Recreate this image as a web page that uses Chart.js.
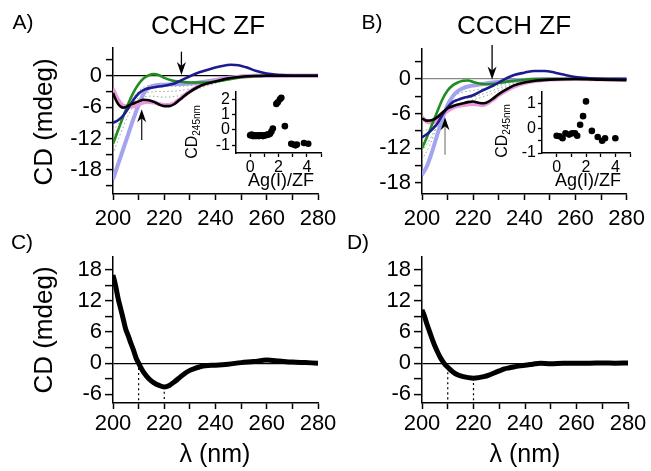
<!DOCTYPE html>
<html><head><meta charset="utf-8">
<script src="https://cdn.jsdelivr.net/npm/chart.js@4.4.1/dist/chart.umd.min.js"></script>
<style>
html,body{margin:0;padding:0;background:#fff;}
#wrap{position:relative;width:651px;height:471px;overflow:hidden;font-family:'Liberation Sans',Arial,Helvetica,sans-serif;color:#000;background:#fff;}
canvas{position:absolute;}
.t{position:absolute;white-space:nowrap;line-height:1;transform:translate(-50%,-50%);z-index:5;}
.r{transform:translate(-50%,-50%) rotate(-90deg);}
.r sub{font-size:10px;vertical-align:-3px;}
</style></head><body>
<div id="wrap">
<canvas id="cA" width="345" height="235" style="left:0;top:0;width:345px;height:235px"></canvas>
<canvas id="cB" width="326" height="235" style="left:325px;top:0;width:326px;height:235px"></canvas>
<canvas id="cC" width="345" height="231" style="left:0;top:240px;width:345px;height:231px"></canvas>
<canvas id="cD" width="326" height="231" style="left:325px;top:240px;width:326px;height:231px"></canvas>
<canvas id="iA" width="150" height="115" style="left:180px;top:80px;width:150px;height:115px"></canvas>
<canvas id="iB" width="150" height="115" style="left:490px;top:80px;width:150px;height:115px"></canvas>

<div class="t" style="left:23px;top:21px;font-size:21px">A)</div>
<div class="t" style="left:208px;top:25px;font-size:26px">CCHC ZF</div>
<div class="t" style="left:372px;top:21px;font-size:21px">B)</div>
<div class="t" style="left:514px;top:25px;font-size:26px">CCCH ZF</div>
<div class="t" style="left:22px;top:241px;font-size:21px">C)</div>
<div class="t" style="left:358px;top:241px;font-size:21px">D)</div>
<div class="t r" style="left:43px;top:122px;font-size:26px">CD (mdeg)</div>
<div class="t r" style="left:43px;top:330px;font-size:26px">CD (mdeg)</div>
<div class="t" style="left:215px;top:453px;font-size:25px">λ (nm)</div>
<div class="t" style="left:525px;top:453px;font-size:25px">λ (nm)</div>
<div class="t r" style="left:193px;top:132px;font-size:16px">CD<sub>245nm</sub></div>
<div class="t r" style="left:503px;top:131px;font-size:16px">CD<sub>245nm</sub></div>
<div class="t" style="left:281px;top:180px;font-size:18px">Ag(I)/ZF</div>
<div class="t" style="left:588px;top:180px;font-size:18px">Ag(I)/ZF</div>
</div>
<script>
// ---------- tick arrays ----------
const xTicks = [200,210,220,230,240,250,260,270,280];
const xTickLabels = ['200','','220','','240','','260','','280'];
const aYTicks = [3,0,-3,-6,-9,-12,-15,-18,-21];
const aYTickLabels = ['','0','','-6','','-12','','-18',''];
const bYTicks = [3,0,-3,-6,-9,-12,-15,-18];
const bYTickLabels = ['','0','','-6','','-12','','-18'];
const cdYTicks = [18,15,12,9,6,3,0,-3,-6];
const cdYTickLabels = ['18','','12','','6','','0','','-6'];
const insetXTicks = [0,1,2,3,4,5];
const insetXTickLabels = ['0','','2','','4',''];
const iaYTicks = [2,1,0,-1];
const iaYTickLabels = ['2','1','0','-1'];
const ibYTicks = [1,0.5,0,-0.5,-1];
const ibYTickLabels = ['1','','0','','-1'];

// ---------- panel A (CCHC ZF) series: [wavelength nm, CD mdeg] ----------
const aLavender = [[200,-19.8],[202,-16.9],[204,-14],[206,-11.1],[208,-8.2],[210,-5.6],[212,-3.4],[214,-2.3],[216,-1.9],[220,-1.7],[225,-1.6],[230,-1.5],[235,-1.2],[240,-0.8],[245,-0.4],[250,-0.15],[255,0],[280,0]];
const aGreen = [[200,-13],[202,-10.4],[204,-7.8],[206,-5.3],[208,-3.2],[210,-1.6],[212,-0.5],[214,0.1],[216,0.3],[218,0.1],[220,-0.4],[223,-0.9],[226,-1.1],[230,-1.3],[235,-1.3],[240,-1.1],[245,-0.7],[250,-0.3],[255,-0.1],[260,0],[280,0]];
const aBlue = [[200,-9],[202,-8.5],[204,-7.6],[206,-6.2],[208,-4.6],[210,-3.4],[212,-2.7],[215,-2.3],[220,-1.9],[224,-1.5],[227,-0.8],[230,-0.1],[234,0.7],[238,1.3],[242,1.8],[246,2.1],[249,2.0],[252,1.6],[256,0.9],[260,0.4],[265,0.15],[270,0],[280,0]];
const aBlack = [[200,-3.3],[201,-4.5],[202,-5.4],[203,-5.9],[204,-6.1],[205,-6.0],[206,-5.7],[208,-5.3],[210,-4.9],[212,-4.6],[214,-4.7],[216,-5.0],[218,-5.5],[220,-5.8],[222,-5.8],[224,-5.4],[226,-4.6],[228,-3.8],[230,-3.1],[233,-2.2],[236,-1.6],[240,-1.1],[245,-0.5],[250,-0.2],[255,-0.05],[260,0],[280,0]];
const aPink = [[200,-2.5],[201,-3.6],[202,-4.6],[203,-5.3],[204,-5.7],[206,-5.9],[208,-5.9],[210,-5.5],[212,-5.1],[214,-5.0],[216,-5.1],[218,-5.4],[220,-5.6],[222,-5.6],[224,-5.2],[226,-4.5],[228,-3.7],[230,-3.0],[233,-2.1],[236,-1.5],[240,-1.0],[245,-0.5],[250,-0.2],[260,0],[280,0]];
const aDot1 = [[200,-12],[203,-9],[206,-6],[209,-3.5],[212,-2.2],[215,-1.8],[220,-1.9],[225,-2.0],[230,-1.9],[235,-1.5],[240,-1.1],[245,-0.6],[250,-0.3],[260,0]];
const aDot2 = [[200,-10.5],[203,-8.5],[206,-6.3],[209,-4.6],[212,-3.5],[215,-3.1],[220,-3.0],[225,-2.9],[230,-2.5],[235,-1.9],[240,-1.3],[245,-0.7],[250,-0.3],[260,0]];
const aDot3 = [[200,-15],[203,-11],[206,-7.5],[209,-5],[212,-4],[215,-3.9],[220,-4.1],[225,-3.9],[230,-3.1],[235,-2.2],[240,-1.5],[245,-0.8],[250,-0.3],[260,0]];
const aArrows = [{x:226.7, from:4.6, to:0.15, shaft:'#000'},{x:211.2, from:-12.3, to:-6.4, shaft:'#222'}];

// ---------- panel B (CCCH ZF) ----------
const bLavender = [[200,-16.6],[202,-15],[204,-12.5],[206,-9.6],[208,-6.8],[210,-4.5],[212,-3.0],[214,-2.1],[216,-1.6],[218,-1.3],[222,-1.0],[226,-0.7],[230,-0.5],[235,-0.3],[240,-0.15],[250,0],[280,0]];
const bGreen = [[200,-12],[202,-10],[204,-7.8],[206,-5.6],[208,-3.5],[210,-2.0],[212,-1.1],[214,-0.6],[216,-0.3],[218,-0.25],[220,-0.5],[223,-0.8],[226,-0.9],[230,-0.7],[234,-0.4],[238,-0.2],[245,0],[280,0]];
const bBlue = [[200,-10.1],[202,-9.5],[204,-8.7],[206,-7.7],[208,-6.2],[210,-4.9],[212,-4.0],[214,-3.6],[216,-3.3],[220,-2.8],[224,-1.9],[228,-1.1],[232,-0.1],[236,0.7],[240,1.1],[244,1.4],[248,1.4],[252,1.1],[256,0.7],[260,0.35],[265,0.15],[270,0.05],[280,0]];
const bBlack = [[200,-6.8],[202,-7.2],[204,-7.1],[206,-6.6],[208,-5.8],[210,-5.1],[212,-4.7],[214,-4.4],[216,-4.2],[218,-4.0],[220,-3.9],[222,-4.1],[224,-4.2],[226,-3.9],[228,-3.3],[230,-2.6],[233,-1.8],[236,-1.1],[240,-0.6],[245,-0.25],[250,-0.1],[260,0],[270,-0.1],[280,-0.2]];
const bPink = [[200,-6.6],[202,-7.4],[204,-7.5],[206,-7.0],[208,-6.2],[210,-5.5],[212,-5.0],[214,-4.7],[216,-4.5],[220,-4.3],[224,-4.5],[226,-4.1],[228,-3.5],[230,-2.8],[233,-2.0],[236,-1.3],[240,-0.7],[245,-0.3],[250,-0.1],[260,0],[280,-0.1]];
const bDot1 = [[200,-14],[203,-11.5],[206,-8],[209,-5],[212,-3.2],[215,-2.4],[220,-2.0],[225,-1.6],[230,-1.1],[235,-0.6],[240,-0.2],[250,0]];
const bDot2 = [[200,-12.5],[203,-10.5],[206,-8],[209,-5.8],[212,-4.3],[215,-3.6],[220,-3.1],[225,-2.4],[230,-1.6],[235,-0.9],[240,-0.4],[250,0]];
const bDot3 = [[200,-9],[203,-8.6],[206,-7.6],[209,-6],[212,-4.8],[215,-4.2],[220,-3.6],[225,-2.9],[230,-2],[235,-1.1],[240,-0.5],[250,0]];
const bArrows = [{x:227.4, from:5.9, to:-0.1, shaft:'#000'},{x:209, from:-13.1, to:-6.6, shaft:'#888'}];

// ---------- panels C and D ----------
const cCurve = [[200,17],[201,15],[202,12.5],[203,10.5],[204,8.5],[205,6.5],[206,5.2],[207,3.8],[208,2.5],[209,1],[210,0],[211,-1],[212,-1.8],[214,-3],[216,-3.8],[218,-4.3],[220,-4.6],[222,-4.3],[224,-3.6],[226,-2.8],[228,-2.0],[230,-1.4],[232,-1.0],[234,-0.7],[236,-0.5],[240,-0.4],[245,-0.2],[250,0.1],[255,0.3],[260,0.6],[265,0.4],[270,0.2],[275,0.1],[280,0]];
const cGuide210 = [[210,0],[210,-7.7]];
const cGuide220 = [[220,-4.6],[220,-7.7]];
const dCurve = [[200,10.3],[201,9],[202,7.4],[203,6],[204,4.6],[205,3.3],[206,2.2],[207,1.2],[208,0.4],[209,-0.3],[210,-0.8],[212,-1.7],[214,-2.3],[216,-2.6],[218,-2.8],[220,-2.9],[222,-2.8],[224,-2.6],[226,-2.3],[228,-1.9],[230,-1.5],[232,-1.1],[234,-0.9],[236,-0.7],[238,-0.5],[240,-0.4],[243,-0.2],[246,0],[250,-0.1],[255,0],[260,0],[265,0],[270,0.05],[275,0],[280,0.05]];
const dGuide210 = [[210,-0.8],[210,-7.7]];
const dGuide220 = [[220,-2.9],[220,-7.7]];

// ---------- insets: Ag(I)/ZF vs CD245nm ----------
const iaX = [0,0.1,0.2,0.3,0.4,0.5,0.6,0.7,0.8,0.9,1.0,1.1,1.2,1.3,1.4,1.5,1.6,1.85,1.95,2.1,2.2,2.45,2.9,3.05,3.2,3.3,3.8,4.1];
const iaY = [-0.35,-0.3,-0.4,-0.35,-0.4,-0.35,-0.4,-0.35,-0.35,-0.4,-0.35,-0.35,-0.3,-0.3,-0.25,-0.1,0.1,1.7,1.8,2.0,2.1,0.25,-0.9,-0.95,-1.0,-0.95,-0.85,-0.9];
const ibX = [0,0.2,0.4,0.6,0.85,1.05,1.25,1.4,1.6,1.8,2.0,2.4,2.8,3.1,3.3,4.0];
const ibY = [-0.3,-0.32,-0.4,-0.2,-0.25,-0.2,-0.2,-0.3,0.15,0.5,1.1,-0.1,-0.35,-0.5,-0.4,-0.4];

// ---------- helpers ----------
const FONT = "'Liberation Sans', Arial, Helvetica, sans-serif";
const pts = arr => arr.map(p => ({x:p[0], y:p[1]}));
const line = (arr, color, w, dash) => ({data:pts(arr), borderColor:color, borderWidth:w, borderDash:dash||[], pointRadius:0, fill:false, tension:0.35, cubicInterpolationMode:'monotone'});

const arrowPlugin = {
  id:'arrows',
  afterDatasetsDraw(chart, args, opts){
    const list = (opts && opts.list) || [];
    const ctx = chart.ctx, xs = chart.scales.x, ys = chart.scales.y;
    list.forEach(a => {
      const x = xs.getPixelForValue(a.x);
      const y0 = ys.getPixelForValue(a.from), y1 = ys.getPixelForValue(a.to);
      const dir = Math.sign(y1 - y0);
      ctx.save();
      ctx.strokeStyle = a.shaft; ctx.lineWidth = 1.3;
      ctx.beginPath(); ctx.moveTo(x, y0); ctx.lineTo(x, y1 - dir*8); ctx.stroke();
      ctx.fillStyle = '#000';
      ctx.beginPath();
      ctx.moveTo(x, y1);
      ctx.lineTo(x - 4.5, y1 - dir*13);
      ctx.lineTo(x, y1 - dir*9);
      ctx.lineTo(x + 4.5, y1 - dir*13);
      ctx.closePath(); ctx.fill();
      ctx.restore();
    });
  }
};

function mainChart(id, o){
  return new Chart(document.getElementById(id), {
    type:'line',
    data:{datasets:o.datasets},
    plugins:[arrowPlugin],
    options:{
      responsive:false, animation:false, events:[],
      layout:{padding:{left:0, top:o.padTop, right:o.padRight, bottom:0}},
      plugins:{legend:{display:false}, tooltip:{enabled:false}, arrows:{list:o.arrows||[]}},
      scales:{
        x:{type:'linear', min:200, max:280,
          afterBuildTicks:s=>{s.ticks = xTicks.map(v=>({value:v}));},
          afterFit:s=>{s.height = o.xHeight;},
          ticks:{callback:(v,i)=>xTickLabels[i], autoSkip:false, maxRotation:0, color:'#000', padding:o.xPad, font:{family:FONT, size:22}},
          grid:{drawOnChartArea:false, tickLength:6, tickColor:'#000', tickWidth:1.5},
          border:{color:'#000', width:1.5}},
        y:{type:'linear', min:o.yMin, max:o.yMax,
          afterBuildTicks:s=>{s.ticks = o.yTicks.map(v=>({value:v}));},
          afterFit:s=>{s.width = o.yWidth;},
          ticks:{callback:(v,i)=>o.yLabels[i], autoSkip:false, color:'#000', padding:o.yPad, font:{family:FONT, size:22}},
          grid:{drawOnChartArea:true, color:c=>(c.tick && c.tick.value===0) ? o.zeroColor : 'rgba(0,0,0,0)', lineWidth:1.2, tickLength:o.yTickLen, tickColor:'#000', tickWidth:1.5},
          border:{color:'#000', width:1.5}}
      }
    }
  });
}

function insetChart(id, xs, ys, o){
  return new Chart(document.getElementById(id), {
    type:'scatter',
    data:{datasets:[{data:xs.map((x,i)=>({x:x, y:ys[i]})), backgroundColor:'#000', borderColor:'#000', pointRadius:3.3, pointBorderWidth:0, showLine:false}]},
    options:{
      responsive:false, animation:false, events:[],
      layout:{padding:{left:0, top:8, right:o.padRight, bottom:0}},
      plugins:{legend:{display:false}, tooltip:{enabled:false}},
      scales:{
        x:{type:'linear', min:-1, max:5,
          afterBuildTicks:s=>{s.ticks = insetXTicks.map(v=>({value:v}));},
          afterFit:s=>{s.height = 42;},
          ticks:{callback:(v,i)=>insetXTickLabels[i], autoSkip:false, maxRotation:0, color:'#000', padding:1, font:{family:FONT, size:16}},
          grid:{drawOnChartArea:false, tickLength:4, tickColor:'#000', tickWidth:1.3},
          border:{color:'#000', width:1.5}},
        y:{type:'linear', min:o.yMin, max:o.yMax,
          afterBuildTicks:s=>{s.ticks = o.yTicks.map(v=>({value:v}));},
          afterFit:s=>{s.width = o.yWidth;},
          ticks:{callback:(v,i)=>o.yLabels[i], autoSkip:false, color:'#000', padding:2, font:{family:FONT, size:16}},
          grid:{drawOnChartArea:false, tickLength:4, tickColor:'#000', tickWidth:1.3},
          border:{color:'#000', width:1.5}}
      }
    }
  });
}

const GREEN='#228b22', BLUE='#1c1c8e', LAV='#a4a4ee', PINK='#ee98dc', DOT='#97a897';

mainChart('cA', {
  datasets:[line(aBlack,'#000',2.6), line(aBlue,BLUE,2.6), line(aGreen,GREEN,2.6), line(aPink,PINK,4), line(aLavender,LAV,4),
            line(aDot1,DOT,1,[1.5,2.5]), line(aDot2,DOT,1,[1.5,2.5]), line(aDot3,DOT,1,[1.5,2.5])],
  yMin:-22.6, yMax:5.3, yTicks:aYTicks, yLabels:aYTickLabels, zeroColor:'#000',
  yWidth:113, xHeight:41, padTop:48, padRight:27, yTickLen:7, yPad:4, xPad:6, arrows:aArrows
});
mainChart('cB', {
  datasets:[line(bBlack,'#000',2.6), line(bBlue,BLUE,2.6), line(bGreen,GREEN,2.6), line(bPink,PINK,4), line(bLavender,LAV,4),
            line(bDot1,DOT,1,[1.5,2.5]), line(bDot2,DOT,1,[1.5,2.5]), line(bDot3,DOT,1,[1.5,2.5])],
  yMin:-19.9, yMax:5.2, yTicks:bYTicks, yLabels:bYTickLabels, zeroColor:'#888',
  yWidth:97, xHeight:41, padTop:49, padRight:23, yTickLen:7, yPad:4, xPad:6, arrows:bArrows
});
mainChart('cC', {
  datasets:[line(cCurve,'#000',5), line(cGuide210,'#000',1.2,[2,3]), line(cGuide220,'#000',1.2,[2,3])],
  yMin:-7.7, yMax:20.5, yTicks:cdYTicks, yLabels:cdYTickLabels, zeroColor:'#000',
  yWidth:113, xHeight:68, padTop:17, padRight:27, yTickLen:8, yPad:3, xPad:2
});
mainChart('cD', {
  datasets:[line(dCurve,'#000',5), line(dGuide210,'#000',1.2,[2,3]), line(dGuide220,'#000',1.2,[2,3])],
  yMin:-7.7, yMax:20.5, yTicks:cdYTicks, yLabels:cdYTickLabels, zeroColor:'#000',
  yWidth:97, xHeight:68, padTop:17, padRight:23, yTickLen:8, yPad:3, xPad:2
});
insetChart('iA', iaX, iaY, {yMin:-1.5, yMax:2.5, yTicks:iaYTicks, yLabels:iaYTickLabels, yWidth:56, padRight:9});
insetChart('iB', ibX, ibY, {yMin:-1, yMax:1.5, yTicks:ibYTicks, yLabels:ibYTickLabels, yWidth:52, padRight:10});
</script>
</body></html>
